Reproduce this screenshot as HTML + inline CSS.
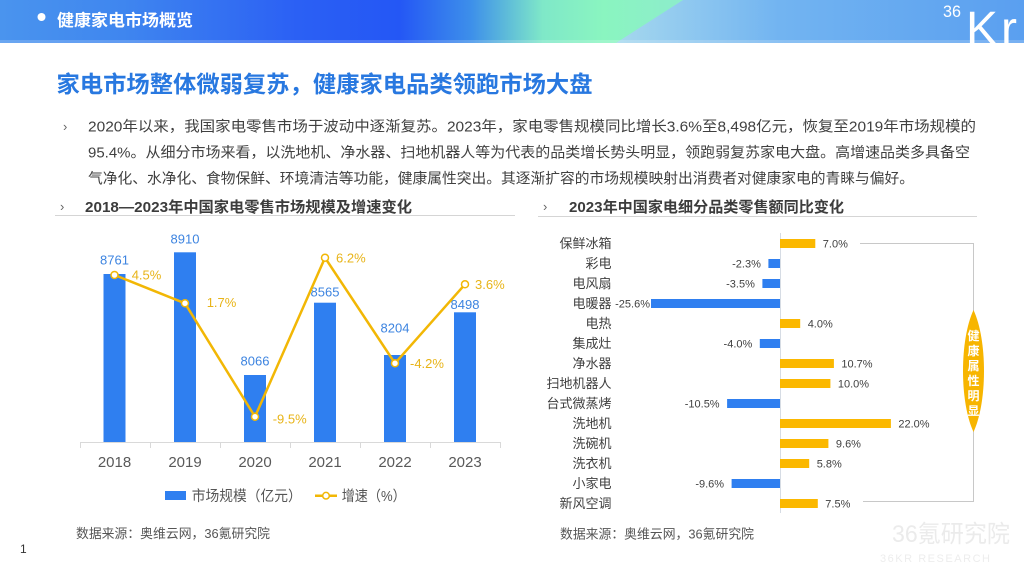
<!DOCTYPE html>
<html><head><meta charset="utf-8"><style>
html,body{margin:0;padding:0;background:#fff;}
svg{display:block;}
text{font-family:"Liberation Sans","Noto Sans CJK SC",sans-serif;}
</style></head><body>
<svg width="1024" height="576" viewBox="0 0 1024 576" xmlns="http://www.w3.org/2000/svg">
<defs>
<linearGradient id="hg" x1="0" y1="0" x2="1024" y2="0" gradientUnits="userSpaceOnUse">
<stop offset="0" stop-color="#4a94ee"/>
<stop offset="0.12" stop-color="#3f86ef"/>
<stop offset="0.29" stop-color="#2b60f4"/>
<stop offset="0.39" stop-color="#2457f5"/>
<stop offset="0.46" stop-color="#3d8fea"/>
<stop offset="0.53" stop-color="#7fe8c8"/>
<stop offset="0.59" stop-color="#8af5c0"/>
<stop offset="0.7" stop-color="#8ee8d0"/>
<stop offset="1" stop-color="#8ee8d0"/>
</linearGradient>
<linearGradient id="rg" x1="616" y1="0" x2="1024" y2="0" gradientUnits="userSpaceOnUse">
<stop offset="0" stop-color="#a6d8ee"/>
<stop offset="0.4" stop-color="#72b4f1"/>
<stop offset="1" stop-color="#5a9ff0"/>
</linearGradient>
<clipPath id="band"><rect x="0" y="0" width="1024" height="43"/></clipPath>
</defs>

<!-- header band -->
<rect x="0" y="0" width="1024" height="43" fill="url(#hg)"/>
<polygon points="683,0 1024,0 1024,43 616,43" fill="url(#rg)"/>
<rect x="0" y="40" width="1024" height="3" fill="#ffffff" opacity="0.18"/>
<circle cx="41.5" cy="17" r="4" fill="#fff"/>
<text x="57" y="26" font-size="16.5" font-weight="bold" fill="#fff" textLength="136" lengthAdjust="spacingAndGlyphs">健康家电市场概览</text>
<g clip-path="url(#band)" fill="#fff">
<text x="943" y="17" font-size="17" textLength="18" lengthAdjust="spacingAndGlyphs">36</text>
<text x="966" y="45" font-size="48">K</text>
<text x="1001" y="45" font-size="48">r</text>
</g>

<!-- title -->
<text x="56.5" y="92" font-size="23" font-weight="bold" fill="#2878e0" textLength="536" lengthAdjust="spacingAndGlyphs">家电市场整体微弱复苏，健康家电品类领跑市场大盘</text>

<!-- paragraph -->
<text x="63" y="131" font-size="13" fill="#666">›</text>
<g font-size="14.5" fill="#404040">
<text x="88" y="131.5" textLength="888" lengthAdjust="spacingAndGlyphs">2020年以来，我国家电零售市场于波动中逐渐复苏。2023年，家电零售规模同比增长3.6%至8,498亿元，恢复至2019年市场规模的</text>
<text x="88" y="157.5" textLength="882" lengthAdjust="spacingAndGlyphs">95.4%。从细分市场来看，以洗地机、净水器、扫地机器人等为代表的品类增长势头明显，领跑弱复苏家电大盘。高增速品类多具备空</text>
<text x="88" y="183.5" textLength="826" lengthAdjust="spacingAndGlyphs">气净化、水净化、食物保鲜、环境清洁等功能，健康属性突出。其逐渐扩容的市场规模映射出消费者对健康家电的青睐与偏好。</text>
</g>

<!-- section headings -->
<text x="60" y="211" font-size="13" fill="#666">›</text>
<text x="85" y="212" font-size="15" font-weight="bold" fill="#3c3c3c" textLength="327" lengthAdjust="spacingAndGlyphs">2018—2023年中国家电零售市场规模及增速变化</text>
<line x1="55" y1="215.5" x2="515" y2="215.5" stroke="#d5d5d5" stroke-width="1"/>
<text x="543" y="211" font-size="13" fill="#666">›</text>
<text x="569" y="212" font-size="15" font-weight="bold" fill="#3c3c3c" textLength="275" lengthAdjust="spacingAndGlyphs">2023年中国家电细分品类零售额同比变化</text>
<line x1="538" y1="216.5" x2="977" y2="216.5" stroke="#d5d5d5" stroke-width="1"/>

<!-- left chart bars -->
<g fill="#2f7ff0">
<rect x="103.5" y="274" width="22" height="168"/>
<rect x="174" y="252.3" width="22" height="189.7"/>
<rect x="244" y="375" width="22" height="67"/>
<rect x="314" y="302.7" width="22" height="139.3"/>
<rect x="384" y="355" width="22" height="87"/>
<rect x="454" y="312.3" width="22" height="129.7"/>
</g>
<line x1="80" y1="442.5" x2="501" y2="442.5" stroke="#d9d9d9" stroke-width="1"/>
<g stroke="#d9d9d9" stroke-width="1">
<line x1="80.5" y1="442" x2="80.5" y2="448"/>
<line x1="150.5" y1="442" x2="150.5" y2="448"/>
<line x1="220.5" y1="442" x2="220.5" y2="448"/>
<line x1="290.5" y1="442" x2="290.5" y2="448"/>
<line x1="360.5" y1="442" x2="360.5" y2="448"/>
<line x1="430.5" y1="442" x2="430.5" y2="448"/>
<line x1="500.5" y1="442" x2="500.5" y2="448"/>
</g>
<g font-size="13" fill="#3d84e0" text-anchor="middle">
<text x="114.5" y="264.7">8761</text>
<text x="185" y="243.7">8910</text>
<text x="255" y="365.7">8066</text>
<text x="325" y="296.4">8565</text>
<text x="395" y="332.7">8204</text>
<text x="465" y="309">8498</text>
</g>
<polyline points="114.5,275 185,303.3 255,416.7 325,257.7 395,363.3 465,284.3" fill="none" stroke="#f2b705" stroke-width="2.5" stroke-linejoin="round"/>
<g fill="#fff" stroke="#f2b705" stroke-width="1.5">
<circle cx="114.5" cy="275" r="3.5"/>
<circle cx="185" cy="303.3" r="3.5"/>
<circle cx="255" cy="416.7" r="3.5"/>
<circle cx="325" cy="257.7" r="3.5"/>
<circle cx="395" cy="363.3" r="3.5"/>
<circle cx="465" cy="284.3" r="3.5"/>
</g>
<g font-size="13" fill="#e8b418">
<text x="131.7" y="279.7">4.5%</text>
<text x="206.7" y="307">1.7%</text>
<text x="272.7" y="423.7">-9.5%</text>
<text x="336" y="262.4">6.2%</text>
<text x="410" y="368">-4.2%</text>
<text x="475" y="289">3.6%</text>
</g>
<g font-size="15" fill="#595959" text-anchor="middle">
<text x="114.5" y="467">2018</text>
<text x="185" y="467">2019</text>
<text x="255" y="467">2020</text>
<text x="325" y="467">2021</text>
<text x="395" y="467">2022</text>
<text x="465" y="467">2023</text>
</g>
<!-- legend -->
<rect x="165" y="491" width="21" height="9" fill="#2f7ff0"/>
<text x="191.7" y="501" font-size="14.5" fill="#555" textLength="110" lengthAdjust="spacingAndGlyphs">市场规模（亿元）</text>
<line x1="315" y1="495.7" x2="337" y2="495.7" stroke="#f2b705" stroke-width="2.5"/>
<circle cx="326" cy="495.7" r="3.3" fill="#fff" stroke="#f2b705" stroke-width="1.5"/>
<text x="341.7" y="501" font-size="14.5" fill="#555" textLength="64" lengthAdjust="spacingAndGlyphs">增速（%）</text>
<text x="76" y="538" font-size="13" fill="#555" textLength="194" lengthAdjust="spacingAndGlyphs">数据来源：奥维云网，36氪研究院</text>

<!-- right chart -->
<line x1="780.5" y1="233" x2="780.5" y2="513" stroke="#d6dce4" stroke-width="1"/>
<polyline points="860,243.5 973.5,243.5 973.5,501.5 863,501.5" fill="none" stroke="#c8c8c8" stroke-width="1"/>
<g font-size="13" fill="#404040" text-anchor="end">
<text x="611.5" y="248.2">保鲜冰箱</text>
<text x="611.5" y="268.2">彩电</text>
<text x="611.5" y="288.2">电风扇</text>
<text x="611.5" y="308.2">电暖器</text>
<text x="611.5" y="328.2">电热</text>
<text x="611.5" y="348.2">集成灶</text>
<text x="611.5" y="368.2">净水器</text>
<text x="611.5" y="388.2">扫地机器人</text>
<text x="611.5" y="408.2">台式微蒸烤</text>
<text x="611.5" y="428.2">洗地机</text>
<text x="611.5" y="448.2">洗碗机</text>
<text x="611.5" y="468.2">洗衣机</text>
<text x="611.5" y="488.2">小家电</text>
<text x="611.5" y="508.2">新风空调</text>
</g>
<g fill="#fbb800">
<rect x="780" y="239" width="35.3" height="9"/>
<rect x="780" y="319" width="20.2" height="9"/>
<rect x="780" y="359" width="53.9" height="9"/>
<rect x="780" y="379" width="50.4" height="9"/>
<rect x="780" y="419" width="110.9" height="9"/>
<rect x="780" y="439" width="48.4" height="9"/>
<rect x="780" y="459" width="29.2" height="9"/>
<rect x="780" y="499" width="37.8" height="9"/>
</g>
<g fill="#2f7ff0">
<rect x="768.4" y="259" width="11.6" height="9"/>
<rect x="762.4" y="279" width="17.6" height="9"/>
<rect x="651" y="299" width="129" height="9"/>
<rect x="759.8" y="339" width="20.2" height="9"/>
<rect x="727.1" y="399" width="52.9" height="9"/>
<rect x="731.6" y="479" width="48.4" height="9"/>
</g>
<g font-size="11" fill="#404040">
<text x="822.8" y="247.5">7.0%</text>
<text x="807.7" y="327.5">4.0%</text>
<text x="841.4" y="367.5">10.7%</text>
<text x="837.9" y="387.5">10.0%</text>
<text x="898.4" y="427.5">22.0%</text>
<text x="835.9" y="447.5">9.6%</text>
<text x="816.7" y="467.5">5.8%</text>
<text x="825.3" y="507.5">7.5%</text>
</g>
<g font-size="11" fill="#404040" text-anchor="end">
<text x="760.9" y="267.5">-2.3%</text>
<text x="754.9" y="287.5">-3.5%</text>
<text x="650" y="307.5">-25.6%</text>
<text x="752.3" y="347.5">-4.0%</text>
<text x="719.6" y="407.5">-10.5%</text>
<text x="724.1" y="487.5">-9.6%</text>
</g>
<path d="M973.5,310 C987.5,340 987.5,402 973.5,432 C959.5,402 959.5,340 973.5,310 Z" fill="#f7b500"/>
<g font-size="12" font-weight="bold" fill="#fff" text-anchor="middle">
<text x="973.5" y="339.9">健</text>
<text x="973.5" y="354.9">康</text>
<text x="973.5" y="369.9">属</text>
<text x="973.5" y="384.9">性</text>
<text x="973.5" y="399.9">明</text>
<text x="973.5" y="414.9">显</text>
</g>
<text x="560" y="538.7" font-size="13" fill="#555" textLength="194" lengthAdjust="spacingAndGlyphs">数据来源：奥维云网，36氪研究院</text>

<!-- watermark -->
<text x="892" y="542" font-size="24" fill="#ebebeb" textLength="118" lengthAdjust="spacingAndGlyphs">36氪研究院</text>
<text x="880" y="562" font-size="11" fill="#ededed" textLength="110" lengthAdjust="spacing">36KR    RESEARCH</text>

<text x="20" y="553" font-size="12" fill="#333">1</text>
</svg>
</body></html>
